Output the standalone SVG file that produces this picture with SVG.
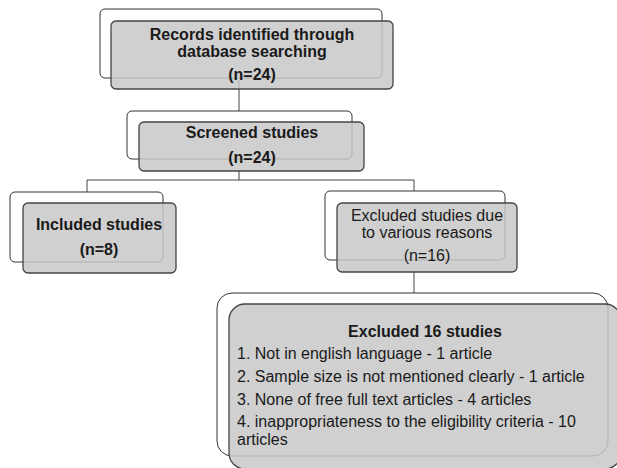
<svg xmlns="http://www.w3.org/2000/svg" width="617" height="468" viewBox="0 0 617 468">
<style>
.back{fill:#ffffff;stroke:#333333;stroke-width:1}
.front{fill:#c8c8c8;fill-opacity:0.85;stroke:#444444;stroke-width:1.3}
.t{font-family:"Liberation Sans",Arial,sans-serif;font-size:16px;fill:#1a1a1a;text-anchor:middle}
.b{font-weight:bold}
.l{font-family:"Liberation Sans",Arial,sans-serif;font-size:16px;fill:#1a1a1a}
.c{fill:none;stroke:#444444;stroke-width:1}
</style>
<rect width="617" height="468" fill="#ffffff"/>
<g id="connectors">
<path class="c" d="M239,80 V111"/>
<path class="c" d="M239,171 V180 M87,180 H414 M87,180 V192 M414,180 V191"/>
<path class="c" d="M414,272 V293"/>
</g>
<g id="records">
<rect class="back" x="100" y="9" width="282" height="69" rx="5"/>
<rect class="front" x="111" y="21" width="282" height="68" rx="5"/>
<text class="t b" x="252" y="40">Records identified through</text>
<text class="t b" x="252" y="57">database searching</text>
<text class="t b" x="252" y="80">(n=24)</text>
</g>
<g id="screened">
<rect class="back" x="127" y="111" width="225" height="48" rx="5"/>
<rect class="front" x="139" y="122" width="225" height="49" rx="5"/>
<text class="t b" x="252" y="138">Screened studies</text>
<text class="t b" x="252" y="163">(n=24)</text>
</g>
<g id="included">
<rect class="back" x="10" y="192" width="153" height="70" rx="5"/>
<rect class="front" x="23" y="203" width="153" height="70" rx="5"/>
<text class="t b" x="99" y="230">Included studies</text>
<text class="t b" x="99" y="255">(n=8)</text>
</g>
<g id="excluded">
<rect class="back" x="325" y="191" width="180" height="69" rx="5"/>
<rect class="front" x="337" y="203" width="180" height="69" rx="5"/>
<text class="t" x="427" y="221">Excluded studies due</text>
<text class="t" x="427" y="238">to various reasons</text>
<text class="t" x="427" y="261">(n=16)</text>
</g>
<g id="excluded16">
<rect class="back" x="217" y="293" width="391" height="163" rx="15"/>
<rect class="front" x="229" y="304" width="392" height="165" rx="16"/>
<text class="l b" x="425" y="337" text-anchor="middle">Excluded 16 studies</text>
<text class="l" x="237" y="359">1. Not in english language - 1 article</text>
<text class="l" x="237" y="382">2. Sample size is not mentioned clearly - 1 article</text>
<text class="l" x="237" y="405">3. None of free full text articles - 4 articles</text>
<text class="l" x="237" y="427">4. inappropriateness to the eligibility criteria - 10</text>
<text class="l" x="237" y="445">articles</text>
</g>
</svg>
